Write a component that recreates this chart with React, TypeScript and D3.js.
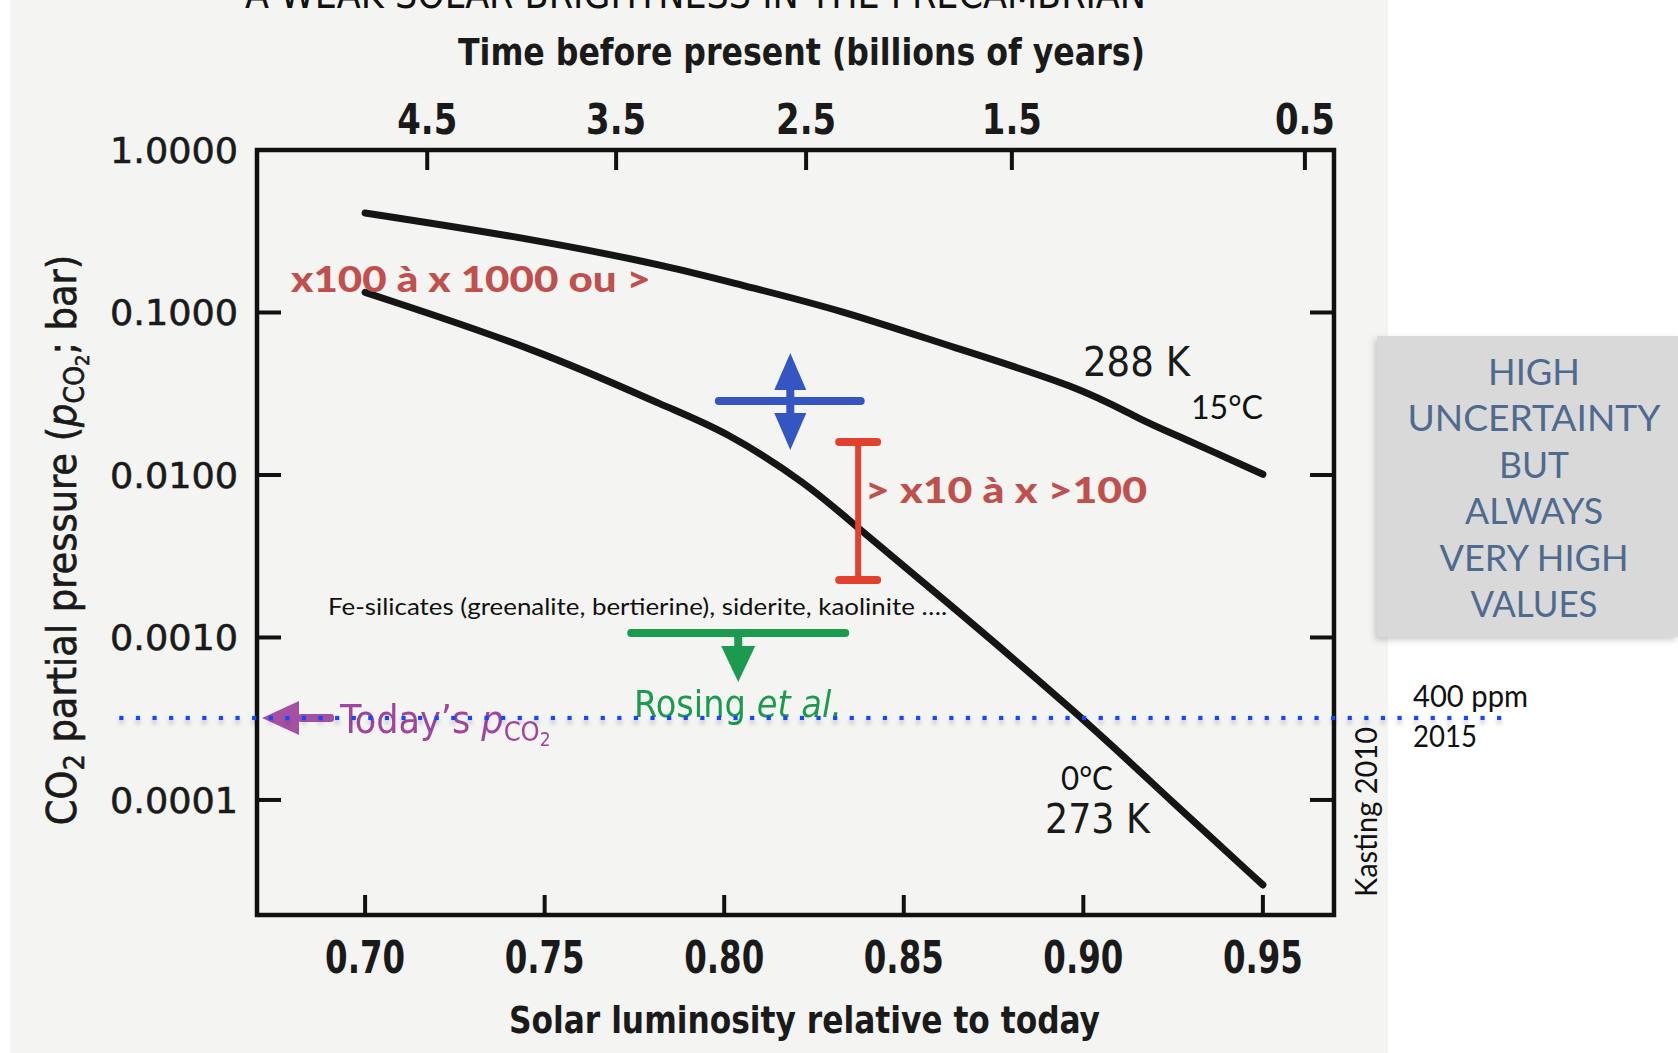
import React from "react";
import * as d3 from "d3";

// ---- data ----
const upperLum = [0.7, 0.7487, 0.7857, 0.8044, 0.8322, 0.8637, 0.8999, 0.9158, 0.9277, 0.95];
const upperPco2 = [0.41, 0.279, 0.19, 0.148, 0.104, 0.061, 0.0343, 0.0218, 0.0169, 0.0101];
const lowerLum = [0.7, 0.7487, 0.7857, 0.7997, 0.823, 0.8378, 0.8581, 0.8999, 0.925, 0.95];
const lowerPco2 = [0.133, 0.0588, 0.0251, 0.0189, 0.00893, 0.00459, 0.00196, 0.00032, 0.000096, 0.00003];

const xTicks = [0.7, 0.75, 0.8, 0.85, 0.9, 0.95];
const xTickLabels = ["0.70", "0.75", "0.80", "0.85", "0.90", "0.95"];
const yTicks = [1, 0.1, 0.01, 0.001, 0.0001];
const yTickLabels = ["1.0000", "0.1000", "0.0100", "0.0010", "0.0001"];
const ageLum = [0.7173, 0.7699, 0.8228, 0.8801, 0.9617];
const ageLabels = ["4.5", "3.5", "2.5", "1.5", "0.5"];

const todayPco2 = 0.00032;
const todayLineLum = [0.6321, 1.016];
const boxLines = ["HIGH", "UNCERTAINTY", "BUT", "ALWAYS", "VERY HIGH", "VALUES"];
const boxLineWidths = [92, 253, 70, 138, 189, 127];

const NARROW = "'Liberation Sans Narrow', 'DejaVu Sans Condensed', 'Roboto', sans-serif";
const GILL = "Lato, 'Open Sans', sans-serif";
const GEO = "'DejaVu Sans', 'Open Sans', sans-serif";

export default function App() {
  const W = 1678, H = 1053;
  const x = d3.scaleLinear().domain([0.6699, 0.9698]).range([257, 1334]);
  const y = d3.scaleLog().domain([1, Math.pow(10, -4.708)]).range([150, 915]);
  const line = d3
    .line<[number, number]>()
    .x((d) => x(d[0]))
    .y((d) => y(d[1]))
    .curve(d3.curveBasis);
  const upper = line(upperLum.map((l, i) => [l, upperPco2[i]] as [number, number])) || "";
  const lower = line(lowerLum.map((l, i) => [l, lowerPco2[i]] as [number, number])) || "";

  const L = 257, R = 1334, T = 150, B = 915;
  const yToday = y(todayPco2);
  const dotXs = d3.range(x(todayLineLum[0]), x(todayLineLum[1]), 16.6);

  // annotation geometry via scales
  const blueX = x(0.8184), blueTop = y(0.0563), blueBot = y(0.01426), blueY = y(0.0285);
  const blueL = x(0.7985), blueR = x(0.838);
  const redX = x(0.8373), redTop = y(0.01596), redBot = y(0.00226);
  const greenL = x(0.7741), greenR = x(0.8337), greenY = y(0.001066), greenX = x(0.8039), greenTip = y(0.000532);
  const purpTip = x(0.6713);

  return (
    <svg
      width={W}
      height={H}
      viewBox={`0 0 ${W} ${H}`}
      style={{ position: "absolute", left: 0, top: 0, background: "#ffffff" }}
    >
      <defs>
        <filter id="dotShadow" filterUnits="userSpaceOnUse" x={0} y={yToday - 20} width={W} height={40}>
          <feDropShadow dx="0" dy="4" stdDeviation="2" floodColor="#000" floodOpacity="0.22" />
        </filter>
        <filter id="boxShadow" x="-10%" y="-10%" width="130%" height="130%">
          <feDropShadow dx="-2" dy="3" stdDeviation="3" floodColor="#000" floodOpacity="0.2" />
        </filter>
        <filter id="soft" filterUnits="userSpaceOnUse" x={0} y={0} width={W} height={H}>
          <feGaussianBlur stdDeviation="0.6" />
        </filter>
      </defs>

      {/* scanned figure background */}
      <rect x={10} y={0} width={1378} height={H} fill="#f4f4f2" />

      {/* partial slide title */}
      <text x={245} y={8} fontFamily={NARROW} fontSize={40} textLength={901} lengthAdjust="spacingAndGlyphs" fill="#111">
        A WEAK SOLAR BRIGHTNESS IN THE PRECAMBRIAN
      </text>

      {/* top axis title */}
      <text x={458} y={65} fontFamily={NARROW} fontSize={38} fontWeight={600} textLength={687} lengthAdjust="spacingAndGlyphs" fill="#1a1a1a">
        Time before present (billions of years)
      </text>

      {/* frame */}
      <rect x={L} y={T} width={R - L} height={B - T} fill="none" stroke="#111" strokeWidth={4.5} />

      {/* top ticks & labels */}
      {ageLum.map((l, i) => (
        <g key={"a" + i}>
          <line x1={x(l)} x2={x(l)} y1={T} y2={T + 20} stroke="#111" strokeWidth={4} />
          <text x={x(l)} y={134} textAnchor="middle" fontFamily={NARROW} fontSize={42} fontWeight={600} textLength={ageLabels[i].length * 20} lengthAdjust="spacingAndGlyphs" fill="#1a1a1a">
            {ageLabels[i]}
          </text>
        </g>
      ))}

      {/* bottom ticks & labels */}
      {xTicks.map((t, i) => (
        <g key={"x" + i}>
          <line x1={x(t)} x2={x(t)} y1={B} y2={B - 20} stroke="#111" strokeWidth={4} />
          <text x={x(t)} y={973} textAnchor="middle" fontFamily={NARROW} fontSize={44} fontWeight={600} textLength={80} lengthAdjust="spacingAndGlyphs" fill="#1a1a1a">
            {xTickLabels[i]}
          </text>
        </g>
      ))}

      {/* left/right ticks & labels */}
      {yTicks.map((t, i) => (
        <g key={"y" + i}>
          {i > 0 && <line x1={L} x2={L + 24} y1={y(t)} y2={y(t)} stroke="#111" strokeWidth={4} />}
          {i > 0 && <line x1={R} x2={R - 24} y1={y(t)} y2={y(t)} stroke="#111" strokeWidth={4} />}
          <text x={238} y={y(t) + 13} textAnchor="end" fontFamily={GEO} fontSize={36} fontWeight={500} textLength={128} lengthAdjust="spacingAndGlyphs" fill="#1a1a1a" stroke="#1a1a1a" strokeWidth={0.6}>
            {yTickLabels[i]}
          </text>
        </g>
      ))}

      {/* x axis title */}
      <text x={509} y={1033} fontFamily={NARROW} fontSize={38} fontWeight={600} textLength={591} lengthAdjust="spacingAndGlyphs" fill="#1a1a1a">
        Solar luminosity relative to today
      </text>

      {/* y axis title */}
      <g transform="translate(76, 540) rotate(-90)">
        <text x={0} y={0} textAnchor="middle" fontFamily={NARROW} fontSize={41} fontWeight={400} fill="#1a1a1a" stroke="#1a1a1a" strokeWidth={0.6}>
          <tspan>CO</tspan>
          <tspan dy={8} fontSize={28}>2</tspan>
          <tspan dy={-8}> partial pressure (</tspan>
          <tspan fontStyle="italic">p</tspan>
          <tspan dy={8} fontSize={28}>CO</tspan>
          <tspan dy={5} fontSize={20}>2</tspan>
          <tspan dy={-13}>; bar)</tspan>
        </text>
      </g>

      {/* curves */}
      <path d={upper} fill="none" stroke="#151515" strokeWidth={7} strokeLinecap="round" strokeLinejoin="round" />
      <path d={lower} fill="none" stroke="#151515" strokeWidth={7} strokeLinecap="round" strokeLinejoin="round" />

      {/* curve labels */}
      <text x={1083} y={376} fontFamily={GEO} fontSize={40} textLength={107} lengthAdjust="spacingAndGlyphs" fill="#1a1a1a">288 K</text>
      <text x={1191} y={419} fontFamily={GILL} fontSize={33} textLength={72} lengthAdjust="spacingAndGlyphs" fill="#111">15°C</text>
      <text x={1061} y={790} fontFamily={GILL} fontSize={32} textLength={52} lengthAdjust="spacingAndGlyphs" fill="#111">0°C</text>
      <text x={1045} y={833} fontFamily={GEO} fontSize={40} textLength={105} lengthAdjust="spacingAndGlyphs" fill="#1a1a1a">273 K</text>

      {/* red annotations */}
      <text x={291} y={292} fontFamily={GILL} fontSize={36} fontWeight={900} textLength={360} lengthAdjust="spacingAndGlyphs" fill="#c0504d">
        x100 à x 1000 ou &gt;
      </text>
      <text x={865} y={503} fontFamily={GILL} fontSize={36} fontWeight={900} textLength={282} lengthAdjust="spacingAndGlyphs" fill="#c0504d">
        &gt; x10 à x &gt;100
      </text>
      <g stroke="#e2412f" strokeLinecap="round">
        <line x1={redX} x2={redX} y1={redTop} y2={redBot} strokeWidth={6} />
        <line x1={redX - 19} x2={redX + 19} y1={redTop} y2={redTop} strokeWidth={8} />
        <line x1={redX - 19} x2={redX + 19} y1={redBot} y2={redBot} strokeWidth={8} />
      </g>

      {/* blue cross */}
      <g fill="#3456c2" stroke="none" filter="url(#soft)">
        <line x1={blueL} x2={blueR} y1={blueY} y2={blueY} stroke="#3456c2" strokeWidth={8} strokeLinecap="round" />
        <rect x={blueX - 4} y={blueTop + 30} width={8} height={blueBot - blueTop - 60} />
        <path d={`M${blueX},${blueTop} L${blueX + 16},${blueTop + 37} L${blueX - 16},${blueTop + 37} Z`} />
        <path d={`M${blueX},${blueBot} L${blueX + 16},${blueBot - 37} L${blueX - 16},${blueBot - 37} Z`} />
      </g>

      {/* Fe-silicates text */}
      <text x={328} y={615} fontFamily={GILL} fontSize={24} textLength={619} lengthAdjust="spacingAndGlyphs" fill="#111">
        Fe-silicates (greenalite, bertierine), siderite, kaolinite ….
      </text>

      {/* green bar and arrow */}
      <g fill="#1f9a4f" filter="url(#soft)">
        <line x1={greenL} x2={greenR} y1={greenY} y2={greenY} stroke="#1f9a4f" strokeWidth={8} strokeLinecap="round" />
        <rect x={greenX - 4} y={greenY} width={8} height={greenTip - greenY - 30} />
        <path d={`M${greenX},${greenTip} L${greenX + 17},${greenTip - 36} L${greenX - 17},${greenTip - 36} Z`} />
      </g>
      <text x={634} y={717} fontFamily={NARROW} fontSize={38} fontWeight={500} textLength={208} lengthAdjust="spacingAndGlyphs" fill="#1f9a4f" filter="url(#soft)">
        Rosing <tspan fontStyle="italic">et al.</tspan>
      </text>

      {/* purple arrow and today's pCO2 */}
      <g fill="#9d409a" opacity={0.9} filter="url(#soft)">
        <path d={`M${purpTip},${yToday} L${purpTip + 37},${yToday - 17} L${purpTip + 37},${yToday + 17} Z`} />
        <rect x={purpTip + 36} y={yToday - 4} width={36} height={8} rx={3} />
      </g>
      <text x={340} y={733} fontFamily={NARROW} fontSize={39} fill="#a0449c" filter="url(#soft)">
        <tspan>Today’s </tspan>
        <tspan fontStyle="italic">p</tspan>
        <tspan dy={8} fontSize={27}>CO</tspan>
        <tspan dy={5} fontSize={19}>2</tspan>
      </text>

      {/* dotted 400 ppm line */}
      <g fill="#1446ff" filter="url(#dotShadow)">
        {dotXs.map((dx, i) => (
          <rect key={"d" + i} x={dx - 2} y={yToday - 2} width={4.2} height={4.2} />
        ))}
      </g>

      {/* Kasting 2010 */}
      <g transform="translate(1377, 897) rotate(-90)">
        <text x={0} y={0} fontFamily={GILL} fontSize={31} textLength={170} lengthAdjust="spacingAndGlyphs" fill="#111">
          Kasting 2010
        </text>
      </g>

      {/* 400 ppm / 2015 */}
      <text x={1413} y={707} fontFamily={GILL} fontSize={30} textLength={115} lengthAdjust="spacingAndGlyphs" fill="#111">400 ppm</text>
      <text x={1413} y={747} fontFamily={GILL} fontSize={30} textLength={64} lengthAdjust="spacingAndGlyphs" fill="#111">2015</text>

      {/* grey box */}
      <rect x={1377} y={336} width={301} height={301} fill="#d9d9d9" filter="url(#boxShadow)" />
      {boxLines.map((s, i) => (
        <text
          key={"b" + i}
          x={1534}
          y={385 + i * 46.4}
          textAnchor="middle"
          fontFamily={GILL}
          fontSize={37}
          textLength={boxLineWidths[i]}
          lengthAdjust="spacingAndGlyphs"
          fill="#4f6a8f"
        >
          {s}
        </text>
      ))}
    </svg>
  );
}
